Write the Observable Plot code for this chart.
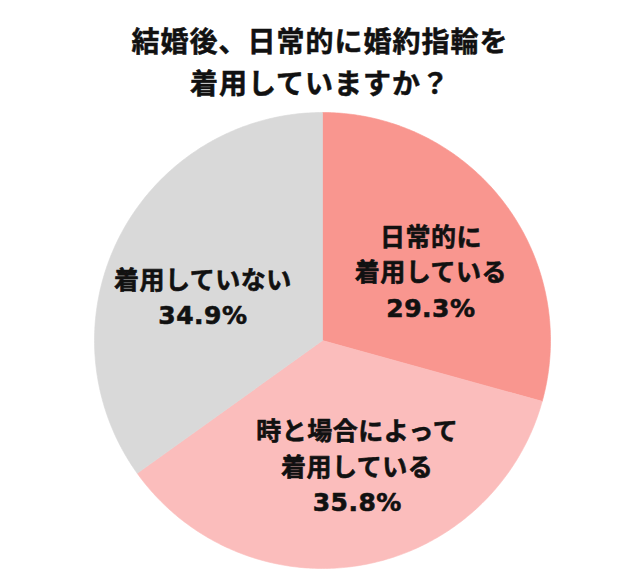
<!DOCTYPE html>
<html>
<head>
<meta charset="utf-8">
<script src="https://cdn.jsdelivr.net/npm/d3@7"></script>
<script src="https://cdn.jsdelivr.net/npm/@observablehq/plot@0.6"></script>
<style>
  html, body { margin: 0; padding: 0; background: #fff; }
  #title {
    box-sizing: border-box;
    width: 640px;
    height: 103px;
    padding-top: 19px;
    text-align: center;
    font-family: "Noto Sans CJK JP", sans-serif;
    font-weight: bold;
    font-size: 28px;
    line-height: 42px;
    letter-spacing: 1px;
    color: #111;
    -webkit-text-stroke: 0.5px #111;
  }
</style>
</head>
<body>
<div id="title">結婚後、日常的に婚約指輪を<br>着用していますか？</div>
<div id="chart"></div>
<script>
const categories = ["日常的に着用している", "時と場合によって着用している", "着用していない"];
const labelTexts = ["日常的に\n着用している", "時と場合によって\n着用している", "着用していない"];
const values = [29.3, 35.8, 34.9];
const colors = ["#F9968F", "#FBBDBC", "#D9D9D9"];

const total = d3.sum(values);
let cum = 0;
const slices = categories.map((c, i) => {
  const a0 = cum / total * 2 * Math.PI;
  cum += values[i];
  const a1 = cum / total * 2 * Math.PI;
  const m = (a0 + a1) / 2;
  return {
    category: c, a0, a1,
    lx: 0.57 * Math.sin(m), ly: 0.57 * Math.cos(m),
    label: labelTexts[i] + "\n" + values[i].toFixed(1) + "%"
  };
});

const pts = slices.flatMap(s => {
  const n = 180;
  const arr = [{category: s.category, x: 0, y: 0}];
  for (let k = 0; k <= n; k++) {
    const a = s.a0 + (s.a1 - s.a0) * k / n;
    arr.push({category: s.category, x: Math.sin(a), y: Math.cos(a)});
  }
  arr.push({category: s.category, x: 0, y: 0});
  return arr;
});

const textOpts = {
  x: "lx", y: "ly", text: "label",
  fontSize: 25, fontWeight: "bold",
  fontFamily: "'DejaVu Sans', 'Noto Sans CJK JP', sans-serif",
  lineHeight: 1.42, fill: "#111", stroke: "#111", strokeWidth: 0.6,
  textAnchor: "middle", lineAnchor: "middle"
};

const chart = Plot.plot({
  width: 640,
  height: 477,
  marginLeft: 94,
  marginRight: 90,
  marginTop: 9,
  marginBottom: 12,
  x: {domain: [-1, 1], axis: null},
  y: {domain: [-1, 1], axis: null},
  color: {domain: categories, range: colors},
  style: {letterSpacing: "0.5px", background: "#fff"},
  marks: [
    Plot.line(pts, {x: "x", y: "y", z: "category", fill: "category", stroke: "category", strokeWidth: 0.6, curve: "linear"}),
    Plot.text(slices.filter((d, i) => i === 0), {...textOpts, dx: 5, dy: 8}),
    Plot.text(slices.filter((d, i) => i === 1), {...textOpts, dx: 12, dy: -4}),
    Plot.text(slices.filter((d, i) => i === 2), {...textOpts, dx: -4, dy: 14})
  ]
});
document.getElementById("chart").appendChild(chart);
</script>
</body>
</html>
